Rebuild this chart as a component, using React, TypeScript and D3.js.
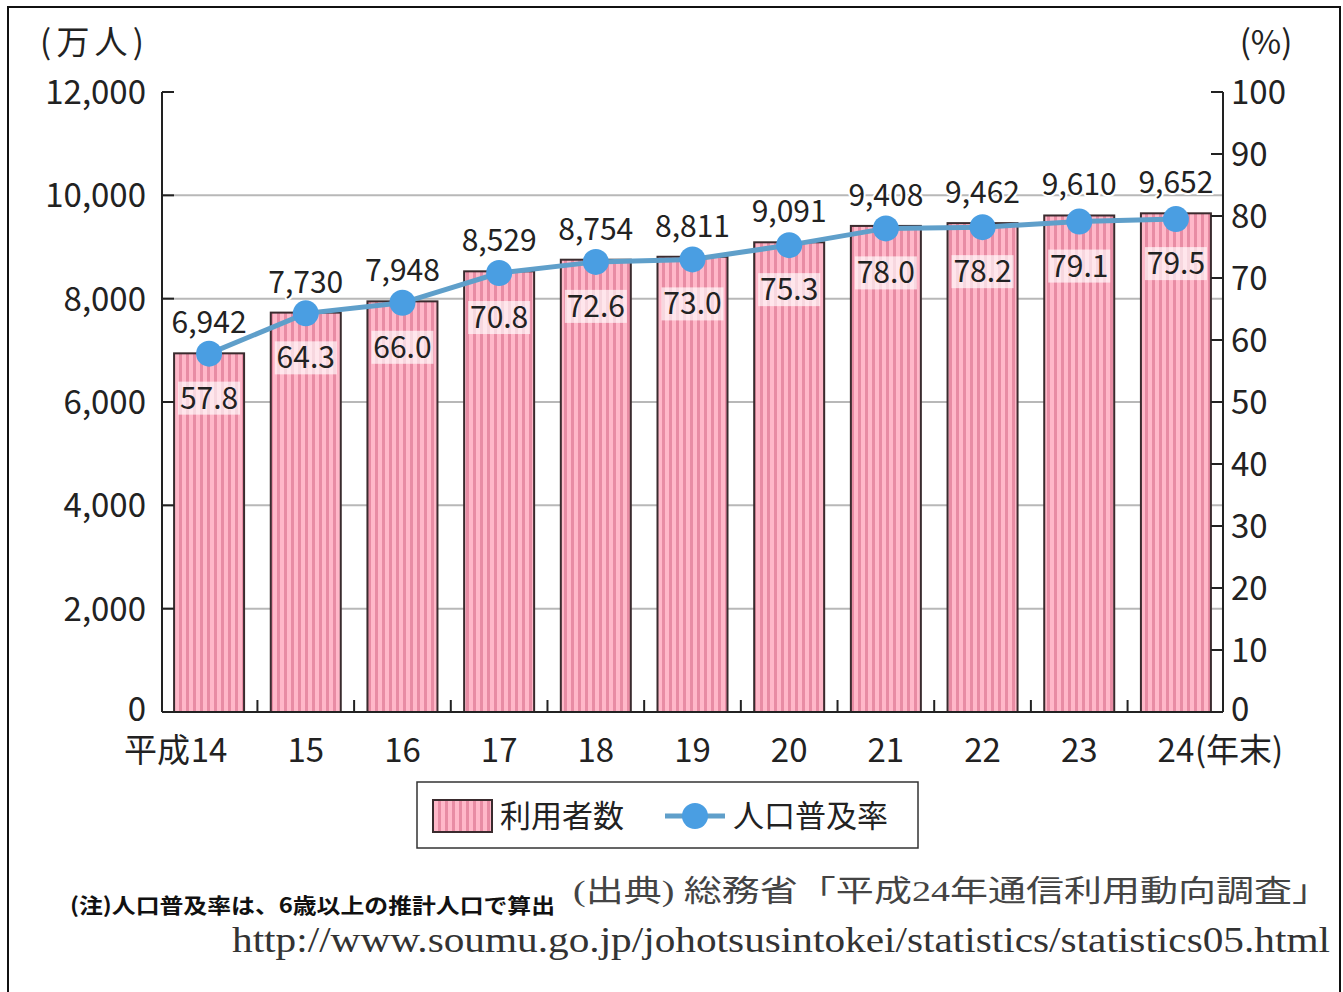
import React from "react";
import * as d3 from "d3";

const categories = ["14", "15", "16", "17", "18", "19", "20", "21", "22", "23", "24"];
const users = [6942, 7730, 7948, 8529, 8754, 8811, 9091, 9408, 9462, 9610, 9652];
const rates = [57.8, 64.3, 66.0, 70.8, 72.6, 73.0, 75.3, 78.0, 78.2, 79.1, 79.5];
const leftTicks = [0, 2000, 4000, 6000, 8000, 10000, 12000];
const rightTicks = [0, 10, 20, 30, 40, 50, 60, 70, 80, 90, 100];

const W = 1343;
const H = 992;
const L = 162, R = 1223, T = 92, B = 712;
const FONT = "'Noto Sans CJK JP', 'Noto Sans', sans-serif";
const SERIF = "'Liberation Serif', 'DejaVu Serif', 'Noto Sans CJK JP', serif";

export default function App() {
  const x = d3.scaleBand<string>().domain(categories).range([L, R]).paddingInner(0.276).paddingOuter(0.125);
  const y = d3.scaleLinear().domain([0, 12000]).range([B, T]);
  const y2 = d3.scaleLinear().domain([0, 100]).range([B, T]);
  const bw = x.bandwidth();
  const step = x.step();
  const cx = (c: string) => (x(c) as number) + bw / 2;
  const line = d3.line<number>().x((_, i) => cx(categories[i])).y((d) => y2(d));
  const fmt = d3.format(",");

  return (
    <svg width={W} height={H} style={{ position: "absolute", left: 0, top: 0, background: "#fff" }}>
      <defs>
        <pattern id="stripe" patternUnits="userSpaceOnUse" width={7} height={10}>
          <rect x={0} y={0} width={7} height={10} fill="#ffb8c9" />
          <rect x={4} y={0} width={3} height={10} fill="#e88ca4" />
        </pattern>
      </defs>
      <rect x={8} y={7} width={1332} height={1000} fill="none" stroke="#111" strokeWidth={2} />

      {/* gridlines */}
      {leftTicks.filter((t) => t > 0 && t < 12000).map((t) => (
        <line key={"g" + t} x1={L} x2={R} y1={y(t)} y2={y(t)} stroke="#b8b8b8" strokeWidth={2} />
      ))}

      {/* bars */}
      {categories.map((c, i) => (
        <rect key={"b" + c} x={x(c)} y={y(users[i])} width={bw} height={B - y(users[i])}
          fill="url(#stripe)" stroke="#3a2b2e" strokeWidth={2} />
      ))}

      {/* axes */}
      <line x1={L} x2={L} y1={T} y2={B} stroke="#222" strokeWidth={2} />
      <line x1={R} x2={R} y1={T} y2={B} stroke="#222" strokeWidth={2} />
      <line x1={L} x2={R} y1={B} y2={B} stroke="#222" strokeWidth={2} />
      {leftTicks.map((t) => (
        <line key={"lt" + t} x1={L} x2={L + 12} y1={y(t)} y2={y(t)} stroke="#222" strokeWidth={2} />
      ))}
      {rightTicks.map((t) => (
        <line key={"rt" + t} x1={R - 12} x2={R} y1={y2(t)} y2={y2(t)} stroke="#222" strokeWidth={2} />
      ))}
      {categories.slice(1).map((c) => {
        const tx = (x(c) as number) - (step - bw) / 2;
        return <line key={"bt" + c} x1={tx} x2={tx} y1={B} y2={B - 12} stroke="#222" strokeWidth={2} />;
      })}

      {/* tick labels */}
      {leftTicks.map((t) => (
        <text key={"ll" + t} x={146} y={y(t) + (t === 0 ? 9 : 12)} textAnchor="end" fontFamily={FONT} fontSize={33} fill="#222">
          {fmt(t)}
        </text>
      ))}
      {rightTicks.map((t) => (
        <text key={"rl" + t} x={1231} y={y2(t) + (t === 0 ? 9 : 12)} textAnchor="start" fontFamily={FONT} fontSize={33} fill="#222">
          {t}
        </text>
      ))}
      <text x={92} y={54} textAnchor="middle" fontFamily={FONT} fontSize={33} fill="#222" textLength={104} lengthAdjust="spacing">(万人)</text>
      <text x={1266} y={54} textAnchor="middle" fontFamily={FONT} fontSize={33} fill="#222">(%)</text>

      {categories.map((c, i) => (
        <g key={"xl" + c}>
          <text x={cx(c)} y={762} textAnchor="middle" fontFamily={FONT} fontSize={33} fill="#222">{c}</text>
          {i === 0 && (
            <text x={cx(c) - 19} y={762} textAnchor="end" fontFamily={FONT} fontSize={33} fill="#222">平成</text>
          )}
          {i === categories.length - 1 && (
            <text x={cx(c) + 19} y={762} textAnchor="start" fontFamily={FONT} fontSize={33} fill="#222">(年末)</text>
          )}
        </g>
      ))}

      {/* line */}
      <path d={line(rates) || ""} fill="none" stroke="#5f9fca" strokeWidth={5} />
      {rates.map((r, i) => (
        <circle key={"c" + i} cx={cx(categories[i])} cy={y2(r)} r={13} fill="#4a9ee2" />
      ))}

      {/* value labels */}
      {categories.map((c, i) => (
        <text key={"vl" + c} x={cx(c)} y={y(users[i]) - 20} textAnchor="middle" fontFamily={FONT} fontSize={30}
          fill="#222" stroke="#fff" strokeWidth={4} paintOrder="stroke" strokeLinejoin="round">
          {fmt(users[i])}
        </text>
      ))}
      {categories.map((c, i) => (
        <g key={"pl" + c}>
          <rect x={cx(c) - 31} y={y2(rates[i]) + 28} width={62} height={33} fill="#fff" opacity={0.65} />
          <text x={cx(c)} y={y2(rates[i]) + 55} textAnchor="middle" fontFamily={FONT} fontSize={30} fill="#222">
            {rates[i].toFixed(1)}
          </text>
        </g>
      ))}

      {/* legend */}
      <rect x={417} y={782} width={501} height={66} fill="#fff" stroke="#333" strokeWidth={1.5} />
      <rect x={433} y={800} width={59} height={32} fill="url(#stripe)" stroke="#3a2b2e" strokeWidth={2} />
      <text x={500} y={827} fontFamily={FONT} fontSize={31} fill="#222">利用者数</text>
      <line x1={665} x2={725} y1={816} y2={816} stroke="#5f9fca" strokeWidth={5} />
      <circle cx={695} cy={816} r={13} fill="#4a9ee2" />
      <text x={733} y={827} fontFamily={FONT} fontSize={31} fill="#222">人口普及率</text>

      {/* notes */}
      <text x={70} y={913} fontFamily={FONT} fontSize={21} fontWeight="bold" fill="#111" textLength={485} lengthAdjust="spacingAndGlyphs">
        (注)人口普及率は、6歳以上の推計人口で算出
      </text>
      <text x={573} y={901} fontFamily={SERIF} fontSize={30} fill="#444" textLength={757} lengthAdjust="spacingAndGlyphs">
        (出典) 総務省「平成24年通信利用動向調査」
      </text>
      <text x={232} y={952} fontFamily={SERIF} fontSize={36} fill="#333" textLength={1098} lengthAdjust="spacingAndGlyphs">
        http://www.soumu.go.jp/johotsusintokei/statistics/statistics05.html
      </text>
    </svg>
  );
}
